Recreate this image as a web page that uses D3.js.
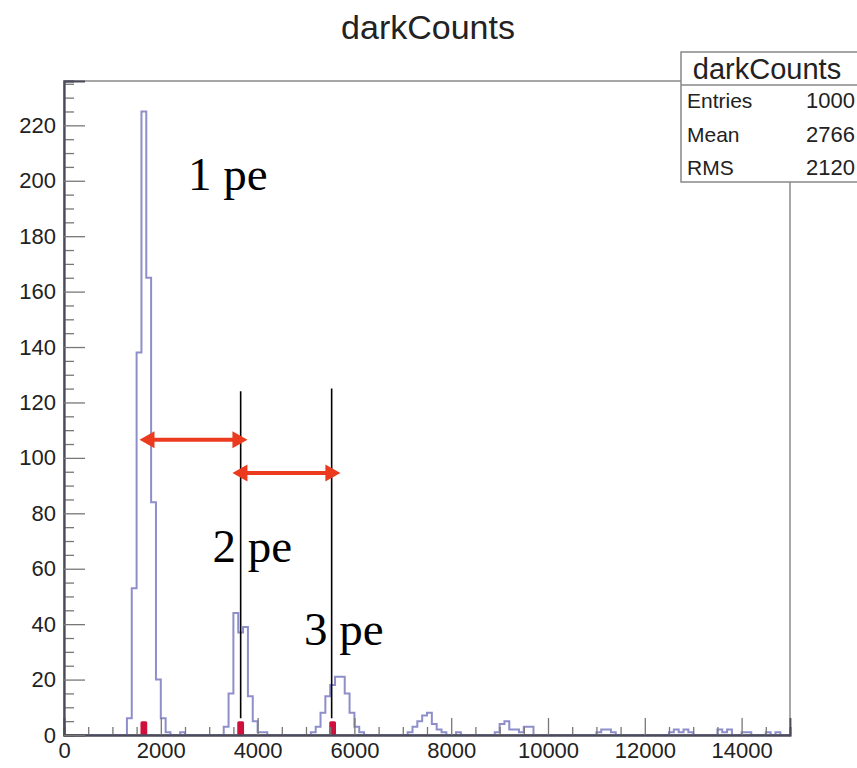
<!DOCTYPE html>
<html><head><meta charset="utf-8">
<script src="https://cdn.jsdelivr.net/npm/d3@7"></script>
<style>body{margin:0;background:#fff;} svg{display:block;}</style>
</head><body>
<svg id="c" width="857" height="768"></svg>
<script>
// ---------- data ----------
const title = "darkCounts";
const binWidth = 100;
const xMin = 0, xMax = 15000;
const yMax = 236;
// non-empty bins: lower edge and count
const binStarts = [1300,1400,1500,1600,1700,1800,1900,2000,2100,2400,
  3300,3400,3500,3600,3700,3800,3900,4000,4100,
  5100,5200,5300,5400,5500,5600,5700,5800,5900,6000,6100,
  7100,7200,7300,7400,7500,7600,7700,7800,8100,
  8900,9000,9100,9200,9300,9400,9500,9600,
  11000,11100,11200,11300,12500,12600,12700,12800,12900,
  13500,13600,13700,14000,14100,14500,14700];
const counts = [6,53,138,225,165,84,20,6,1,1,
  3,15,44,37,39,14,5,1,1,
  1,3,8,14,18,21,21,15,8,3,1,
  1,3,5,7,8,4,2,1,1,
  1,4,5,2,2,1,3,3,
  1,2,2,1,1,2,1,2,1,
  2,1,2,1,1,1,1];
// red peak markers (bin centre, height)
const markerX = [1650,3650,5550];
const markerCounts = [5,5,5];
const xTicks = [0,2000,4000,6000,8000,10000,12000,14000];
const yTicks = [0,20,40,60,80,100,120,140,160,180,200,220];
const statsLabels = ["Entries","Mean","RMS"];
const statsValues = ["1000","2766","2120"];
// annotations (data units)
const peLabels = ["1 pe","2 pe","3 pe"];
const peLabelX = [2560,3070,4960];
const peLabelY = [196.5,62.5,32.5];
const peLinesX = [3650,5530];
const peLineTop = [124,125];
const peLineBottom = 6;
const arrowFrom = [1560,3480];
const arrowTo = [3790,5710];
const arrowY = [106.5,94.5];

// ---------- drawing ----------
const svg = d3.select("#c");
const x = d3.scaleLinear([xMin,xMax],[64,790]);
const y = d3.scaleLinear([0,yMax],[735,81]);
const sans = "'Liberation Sans',Arial,Helvetica,sans-serif";

// full bin array
const nb = Math.round((xMax-xMin)/binWidth);
const full = new Array(nb).fill(0);
binStarts.forEach((b,i)=>{ full[Math.round((b-xMin)/binWidth)] = counts[i]; });

// frame
svg.append("rect").attr("x",x(xMin)).attr("y",y(yMax)).attr("width",x(xMax)-x(xMin))
  .attr("height",y(0)-y(yMax)).attr("fill","none").attr("stroke","#8a8a8a").attr("stroke-width",1.5);

// histogram step path
let pts = [[x(xMin), y(0)]];
full.forEach((c,i)=>{
  const x0 = x(xMin+i*binWidth), x1 = x(xMin+(i+1)*binWidth);
  pts.push([x0,y(c)]); pts.push([x1,y(c)]);
});
pts.push([x(xMax),y(0)]);
svg.append("path").attr("d",d3.line()(pts)).attr("fill","none")
  .attr("stroke","#8e8ecb").attr("stroke-width",2);

// red markers
svg.selectAll(".mk").data(markerX).join("rect")
  .attr("x",(d)=>x(d-70)).attr("width",(d)=>x(d+70)-x(d-70))
  .attr("y",(d,i)=>y(markerCounts[i])).attr("height",(d,i)=>y(0)-y(markerCounts[i]))
  .attr("fill","#d0103c").attr("rx",1.5);

// axes
const axG = svg.append("g").attr("font-family",sans);
const xMinor = d3.range(xMin, xMax+1, 500).filter(v=>v%2000!==0);
axG.append("g").attr("transform",`translate(0,${y(0)})`)
  .call(d3.axisBottom(x).tickValues(xMinor).tickSize(-8).tickFormat(""));
axG.append("g").attr("transform",`translate(0,${y(0)})`)
  .call(d3.axisBottom(x).tickValues(xTicks).tickSize(-17).tickPadding(7).tickFormat(d3.format("d")));
const yMinor = d3.range(0, yMax, 5).filter(v=>v%20!==0);
axG.append("g").attr("transform",`translate(${x(xMin)},0)`)
  .call(d3.axisLeft(y).tickValues(yMinor).tickSize(-10).tickFormat(""));
axG.append("g").attr("transform",`translate(${x(xMin)},0)`)
  .call(d3.axisLeft(y).tickValues(yTicks).tickSize(-21).tickPadding(8).tickFormat(d3.format("d")));
axG.selectAll(".domain").attr("stroke","#4a4a5a").attr("stroke-width",1.8);
axG.selectAll(".tick line").attr("stroke","#777").attr("stroke-width",1.3);
axG.selectAll(".tick text").attr("font-size",22).attr("fill","#222");

// title
svg.append("text").attr("x",428).attr("y",39).attr("text-anchor","middle")
  .attr("font-family",sans).attr("font-size",34)
  .attr("fill","#222").text(title);

// stats box
const sb = svg.append("g").attr("font-family",sans).attr("fill","#222");
sb.append("rect").attr("x",681).attr("y",52).attr("width",200).attr("height",130)
  .attr("fill","#fff").attr("stroke","#888").attr("stroke-width",1.5);
sb.append("line").attr("x1",681).attr("x2",857).attr("y1",85).attr("y2",85).attr("stroke","#888").attr("stroke-width",1.5);
sb.append("text").attr("x",767).attr("y",79).attr("text-anchor","middle").attr("font-size",29).text(title);
statsLabels.forEach((l,i)=>{
  sb.append("text").attr("x",687).attr("y",108+i*33.5).attr("font-size",21).text(l);
  sb.append("text").attr("x",855).attr("y",108+i*33.5).attr("text-anchor","end").attr("font-size",22).text(statsValues[i]);
});

// annotation lines
svg.selectAll(".pel").data(peLinesX).join("line")
  .attr("x1",d=>x(d)).attr("x2",d=>x(d)).attr("y1",(d,i)=>y(peLineTop[i])).attr("y2",y(peLineBottom))
  .attr("stroke","#000").attr("stroke-width",1.6);

// arrows
const ah = 15, aw = 8.5, red = "#ec3a1e";
arrowFrom.forEach((f,i)=>{
  const x0 = x(f), x1 = x(arrowTo[i]), yy = y(arrowY[i]);
  svg.append("line").attr("x1",x0+ah-2).attr("x2",x1-ah+2).attr("y1",yy).attr("y2",yy)
    .attr("stroke",red).attr("stroke-width",4);
  svg.append("path").attr("d",`M${x0},${yy}L${x0+ah},${yy-aw}L${x0+ah},${yy+aw}Z`).attr("fill",red);
  svg.append("path").attr("d",`M${x1},${yy}L${x1-ah},${yy-aw}L${x1-ah},${yy+aw}Z`).attr("fill",red);
});

// pe labels
svg.selectAll(".pe").data(peLabels).join("text")
  .attr("x",(d,i)=>x(peLabelX[i])).attr("y",(d,i)=>y(peLabelY[i]))
  .attr("font-family","'Liberation Serif','Times New Roman',serif").attr("font-size",47)
  .attr("fill","#000").text(d=>d);
</script>
</body></html>
